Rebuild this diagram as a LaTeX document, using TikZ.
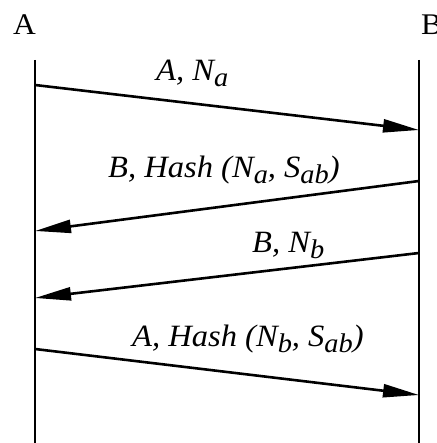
\documentclass[tikz,border=0pt]{standalone}
\usepackage{fontspec}
\setmainfont{Liberation Serif}[FakeStretch=1.05]
\usetikzlibrary{arrows.meta}
\newcommand{\lsub}[1]{\raisebox{-6pt}{\fontsize{27}{27}\selectfont #1}}

\begin{document}
\begin{tikzpicture}[x=1pt,y=-1pt,>={Triangle[length=36pt,width=13pt]},
  life/.style={line width=2.8pt},msg/.style={->,line width=2.6pt},
  who/.style={anchor=base west,inner sep=0pt,font=\fontsize{30}{36}\selectfont},
  lbl/.style={anchor=base west,inner sep=0pt,font=\fontsize{31}{36}\selectfont\itshape}]
\useasboundingbox (0,0) rectangle (436,443);
\node[who] (nameA) at (13,35) {A};
\node[who] (nameB) at (421,35) {B};
\coordinate (Atop) at (35,60); \coordinate (Abot) at (35,443);
\coordinate (Btop) at (419,60); \coordinate (Bbot) at (419,443);
\draw[life] (Atop)--(Abot);
\draw[life] (Btop)--(Bbot);
\coordinate (a1) at (35,85); \coordinate (b1) at (419,130);
\coordinate (b2) at (419,181); \coordinate (a2) at (35,231);
\coordinate (b3) at (419,253); \coordinate (a3) at (35,298);
\coordinate (a4) at (35,349); \coordinate (b4) at (419,395);
\draw[msg] (a1)--(b1);
\draw[msg] (b2)--(a2);
\draw[msg] (b3)--(a3);
\draw[msg] (a4)--(b4);
\node[lbl] (m1) at (156,81) {A, N\lsub{a}};
\node[lbl] (m2) at (108,178) {B, Hash (N\lsub{a}, S\lsub{ab})};
\node[lbl] (m3) at (252,252) {B, N\lsub{b}};
\node[lbl] (m4) at (132,346) {A, Hash (N\lsub{b}, S\lsub{ab})};
\end{tikzpicture}
\end{document}
